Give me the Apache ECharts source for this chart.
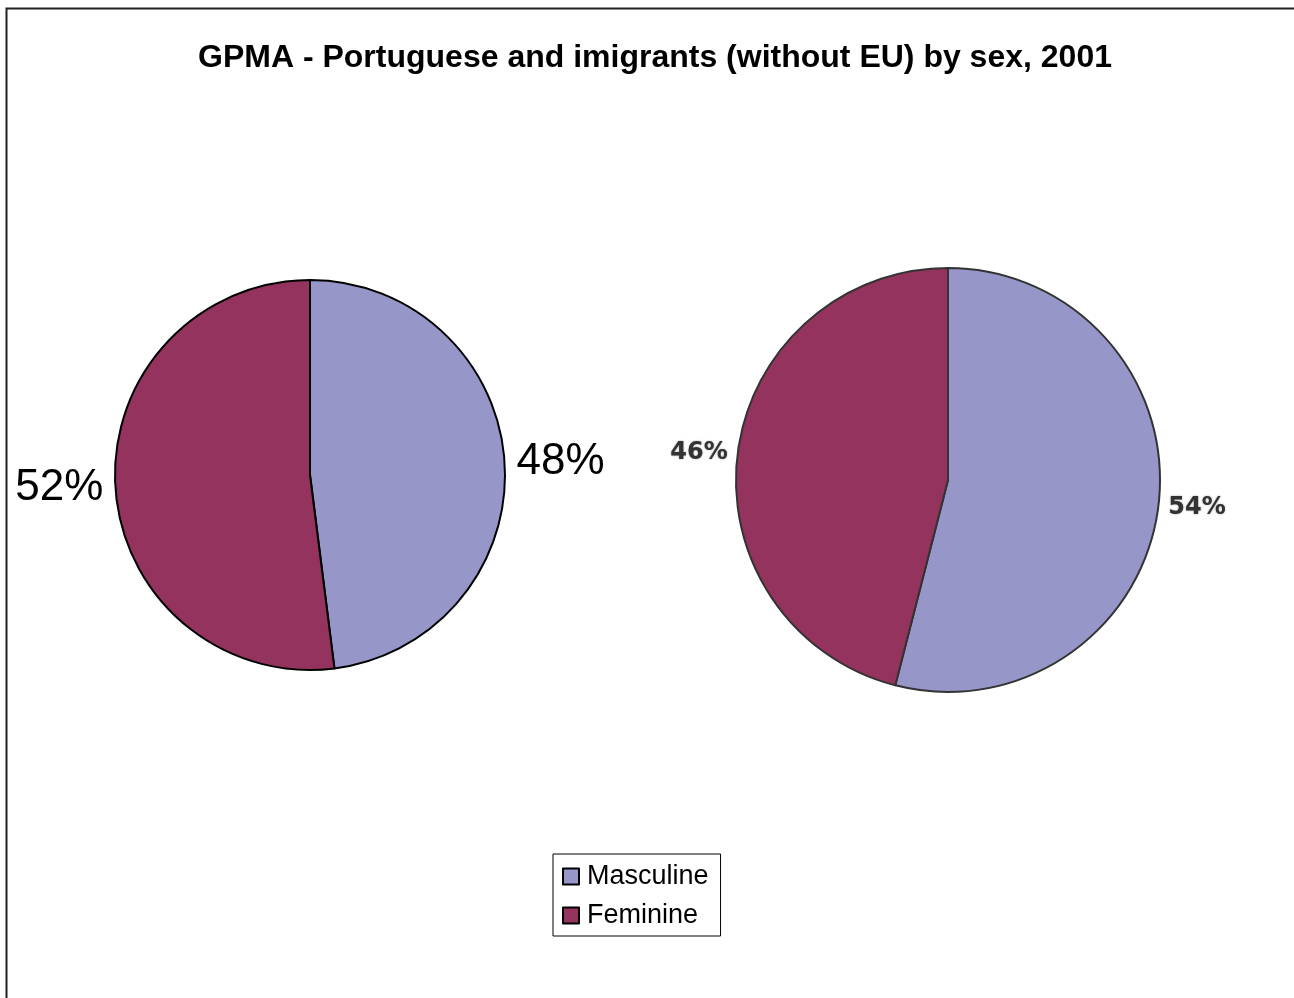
<!DOCTYPE html>
<html>
<head>
<meta charset="utf-8">
<script src="https://cdn.jsdelivr.net/npm/echarts@6/dist/echarts.min.js"></script>
<style>
html,body{margin:0;padding:0;background:#fff;}
#chart{width:1294px;height:998px;}
</style>
</head>
<body>
<div id="chart"></div>
<script>
const titleText = 'GPMA - Portuguese and imigrants (without EU) by sex, 2001';
const categories = ['Masculine', 'Feminine'];
const portugueseValues = [48, 52];
const immigrantValues = [54, 46];
const colors = ['#9696C8', '#94335E'];

const chart = echarts.init(document.getElementById('chart'), null, {renderer: 'canvas'});

function toData(vals) {
  return categories.map((c, i) => ({name: c, value: vals[i]}));
}

const option = {
  animation: false,
  backgroundColor: '#ffffff',
  color: colors,
  title: {
    text: titleText,
    left: 650,
    textAlign: 'center',
    top: 37,
    textStyle: {fontFamily: 'Liberation Sans, Arial, sans-serif', fontWeight: 'bold', fontSize: 32, color: '#000'}
  },
  graphic: [{
    type: 'rect',
    shape: {x: 6.5, y: 8.5, width: 1300, height: 1000},
    style: {fill: 'none', stroke: '#222', lineWidth: 2},
    silent: true
  }],
  legend: {
    orient: 'vertical',
    left: 553,
    top: 854,
    data: categories,
    borderColor: '#000',
    borderWidth: 1,
    padding: [8, 12, 6, 9],
    itemGap: 10,
    itemWidth: 16,
    itemHeight: 16,
    icon: 'rect',
    itemStyle: {borderColor: '#000', borderWidth: 2},
    textStyle: {fontFamily: 'Liberation Sans, Arial, sans-serif', fontSize: 27, color: '#000', lineHeight: 29, padding: [0, 0, 0, 3]}
  },
  series: [
    {
      type: 'pie',
      center: [310, 475],
      radius: 195,
      startAngle: 90,
      clockwise: true,
      data: toData(portugueseValues),
      itemStyle: {borderColor: '#000', borderWidth: 2},
      label: {
        show: true,
        position: 'outside',
        formatter: '{c}%',
        fontFamily: 'Liberation Sans, Arial, sans-serif',
        fontSize: 44,
        color: '#000',
        distanceToLabelLine: 0
      },
      labelLine: {show: false, length: 8, length2: 4},
      emphasis: {disabled: true}
    },
    {
      type: 'pie',
      center: [948, 480],
      radius: 212,
      startAngle: 90,
      clockwise: true,
      data: toData(immigrantValues),
      itemStyle: {borderColor: '#333', borderWidth: 2},
      label: {
        show: true,
        position: 'outside',
        formatter: '{c}%',
        fontFamily: 'DejaVu Sans, sans-serif',
        fontWeight: 'bold',
        fontSize: 24,
        color: '#333',
        textShadowColor: 'rgba(0,0,0,0.4)',
        textShadowBlur: 2,
        distanceToLabelLine: 0
      },
      labelLine: {show: false, length: 8, length2: 2},
      emphasis: {disabled: true}
    }
  ]
};
chart.setOption(option);
</script>
</body>
</html>
